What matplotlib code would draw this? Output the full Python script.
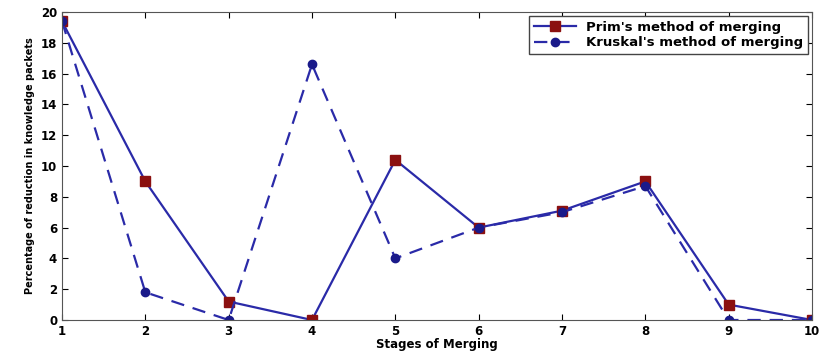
import numpy as np
import matplotlib
matplotlib.use("Agg")
import matplotlib.pyplot as plt

# values
stages = [1, 2, 3, 4, 5, 6, 7, 8, 9, 10]
prim = [19.4, 9.0, 1.2, 0.0, 10.4, 6.0, 7.1, 9.0, 1.0, 0.0]
kruskal = [19.4, 1.8, 0.0, 16.6, 4.0, 6.0, 7.0, 8.7, 0.0, 0.0]

fig = plt.figure(figsize=(8.22, 3.58), dpi=100)
ax = fig.add_axes([62 / 822, 38 / 358, 750 / 822, 308 / 358])

ax.plot(stages, prim, '-', color='#2a2aa8', linewidth=1.6,
        marker='s', markersize=7, markerfacecolor='#8b1010',
        markeredgecolor='#8b1010', label="Prim's method of merging")
ax.plot(stages, kruskal, '--', color='#2a2aa8', linewidth=1.6, dashes=(6, 4),
        marker='o', markersize=6, markerfacecolor='#1a1a8a',
        markeredgecolor='#1a1a8a', label="Kruskal's method of merging")

ax.set_xlim(1, 10)
ax.set_ylim(0, 20)
ax.set_xticks(stages)
ax.set_yticks(np.arange(0, 21, 2))
ax.tick_params(direction='in', length=4, top=True, right=True, labelsize=8.5)
for lbl in ax.get_xticklabels() + ax.get_yticklabels():
    lbl.set_fontweight('bold')
for s in ax.spines.values():
    s.set_color('#555555')

ax.set_xlabel('Stages of Merging', fontsize=8.5, fontweight='bold', labelpad=0)
ax.set_ylabel('Percentage of reduction in knowledge packets', fontsize=7, fontweight='bold', labelpad=4)

leg = ax.legend(loc='upper right', prop={'weight': 'bold', 'size': 9.5},
                fancybox=False, framealpha=1, edgecolor='#444444',
                borderpad=0.35, labelspacing=0.2, handlelength=3.2,
                borderaxespad=0.3)

fig.savefig('out.png', dpi=100)
